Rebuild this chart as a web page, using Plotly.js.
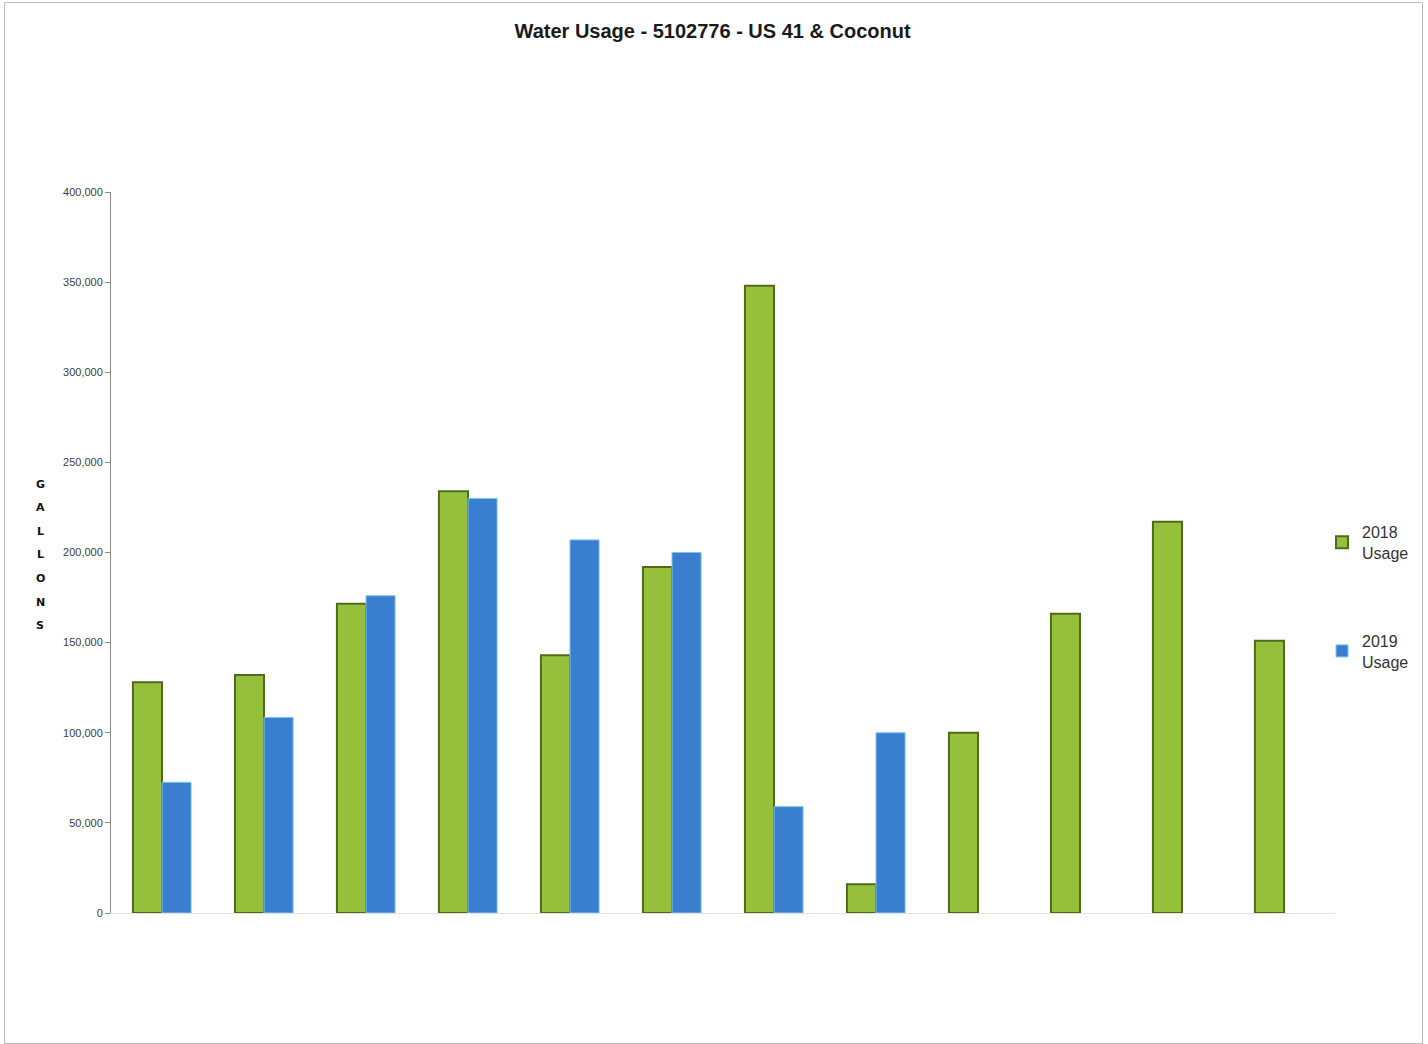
<!DOCTYPE html>
<html>
<head>
<meta charset="utf-8">
<script src="https://cdn.plot.ly/plotly-3.0.1.min.js"></script>
<style>
  html, body { margin: 0; padding: 0; background: #fff; }
  #chart { position: absolute; left: 0; top: 0; width: 1428px; height: 1044px; }
  #frame { position: absolute; left: 4px; top: 2px; width: 1417px; height: 1040px; border: 1px solid #bdbdbd; pointer-events: none; }
</style>
</head>
<body>
<div id="chart"></div>
<div id="frame"></div>
<script>
const categories = ["Jan", "Feb", "Mar", "Apr", "May", "Jun", "Jul", "Aug", "Sep", "Oct", "Nov", "Dec"];
const usage2018 = [128000, 132000, 171500, 234000, 143000, 192000, 348000, 16000, 100000, 166000, 217000, 151000];
const usage2019 = [72500, 108500, 176000, 230000, 207000, 200000, 59000, 100000, null, null, null, null];
const seriesNames = ["2018<br>Usage", "2019<br>Usage"];
const yTickVals = [0, 50000, 100000, 150000, 200000, 250000, 300000, 350000, 400000];
const yTickText = ["0", "50,000", "100,000", "150,000", "200,000", "250,000", "300,000", "350,000", "400,000"];
const yTitleLetters = ["G", "A", "L", "L", "O", "N", "S"];

const FONT = "Liberation Sans Narrow, Arial Narrow, Liberation Sans, Arial, sans-serif";

const traces = [
  {
    type: "bar", x: categories, y: usage2018, name: seriesNames[0], legendgroup: "a",
    marker: { color: "#96c03c", line: { color: "#4f6b1a", width: 2 } },
    hoverinfo: "y"
  },
  {
    type: "bar", x: categories, y: usage2019, name: seriesNames[1], legendgroup: "b",
    marker: { color: "#3a7ed0", line: { color: "#7cc3ef", width: 1 } },
    hoverinfo: "y"
  }
];

// Stacked vertical axis title letters, placed in paper coordinates
const plotTopPx = 192, plotBottomPx = 913, plotLeftPx = 111, plotWidthPx = 1224;
const letterTop = 484, letterStep = 23.6;
const letterAnnotations = yTitleLetters.map((ch, i) => ({
  text: "<b>" + ch + "</b>",
  xref: "paper", yref: "paper",
  x: (40 - plotLeftPx) / plotWidthPx,
  y: (plotBottomPx - (letterTop + i * letterStep)) / (plotBottomPx - plotTopPx),
  xanchor: "center", yanchor: "middle", showarrow: false,
  font: { family: "DejaVu Sans, sans-serif", size: 11, color: "#111" }
}));

const layout = {
  width: 1428, height: 1044,
  paper_bgcolor: "rgba(0,0,0,0)", plot_bgcolor: "rgba(0,0,0,0)",
  margin: { l: 111, r: 93, t: 192, b: 131, autoexpand: false },
  title: {
    text: "<b>Water Usage - 5102776 - US 41 &amp; Coconut</b>",
    font: { family: FONT, size: 20, color: "#1a1a1a" },
    x: 0.499, xanchor: "center", xref: "container", y: 0.970, yanchor: "middle", yref: "container"
  },
  barmode: "group", bargap: 0.43, bargroupgap: 0,
  xaxis: {
    type: "category", showticklabels: false, ticks: "",
    showline: true, linecolor: "#e3e3e3", linewidth: 1,
    showgrid: false, zeroline: false, fixedrange: true
  },
  yaxis: {
    range: [0, 400000], tickvals: yTickVals, ticktext: yTickText,
    showline: true, linecolor: "#8c8c8c", linewidth: 1,
    ticks: "outside", ticklen: 5, tickcolor: "#8c8c8c",
    tickfont: { family: FONT, size: 11, color: "#404040" },
    showgrid: false, zeroline: false, fixedrange: true
  },
  showlegend: true,
  legend: {
    xref: "container", yref: "container",
    x: 1322 / 1428, xanchor: "left", y: 1 - 515 / 1044, yanchor: "top",
    traceorder: "grouped", tracegroupgap: 64, itemwidth: 30,
    font: { family: FONT, size: 16, color: "#333333" },
    bgcolor: "rgba(0,0,0,0)"
  },
  annotations: letterAnnotations
};

Plotly.newPlot("chart", traces, layout, { displayModeBar: false, staticPlot: true });
</script>
</body>
</html>
